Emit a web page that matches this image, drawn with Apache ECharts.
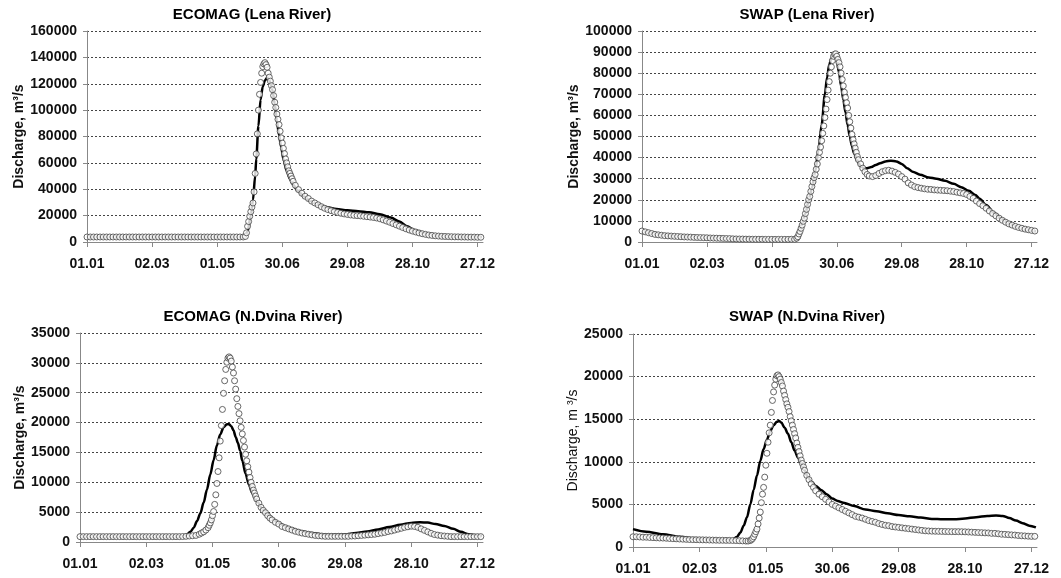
<!DOCTYPE html>
<html>
<head>
<meta charset="utf-8">
<script src="https://cdn.jsdelivr.net/npm/echarts@6/dist/echarts.min.js"></script>
<style>
  html, body { margin: 0; padding: 0; background: #fff; }
  #chart { width: 1061px; height: 578px; }
</style>
</head>
<body>
<div id="chart"></div>
<script>
// day of year (0 = 01.01) and tick labels
const tickDays = [0, 60, 120, 180, 240, 300, 360]
const tickLabels = ['01.01', '02.03', '01.05', '30.06', '29.08', '28.10', '27.12']

const panelTitles = ['ECOMAG (Lena River)', 'SWAP (Lena River)', 'ECOMAG (N.Dvina River)', 'SWAP (N.Dvina River)']
const yMax = [160000, 100000, 35000, 25000]
const yStep = [20000, 10000, 5000, 5000]

// ECOMAG, Lena: observed (circles) and simulated (line), [day, m3/s]
const lenaEcoObs = [
  [0,3800],[3,3800],[6,3800],[9,3800],[12,3800],[15,3800],[18,3800],[21,3800],[24,3800],[27,3800],[30,3800],[33,3800],
  [36,3800],[39,3800],[42,3800],[45,3800],[48,3800],[51,3800],[54,3800],[57,3800],[60,3800],[63,3800],[66,3800],[69,3800],
  [72,3800],[75,3800],[78,3800],[81,3800],[84,3800],[87,3800],[90,3800],[93,3800],[96,3800],[99,3800],[102,3800],[105,3800],
  [108,3800],[111,3800],[114,3800],[117,3800],[120,3800],[123,3800],[126,3800],[129,3800],[132,3800],[135,3800],[138,3800],
  [141,3800],[144,3800],[146,4200],[147,7000],[148,11900],[149,15500],[150,19500],[151,23000],[152,26500],[153,29600],
  [154,38000],[155,52000],[156,66800],[157,82000],[158,100000],[159,112000],[160,121000],[161,128000],[162,133000],
  [163,135000],[164,136000],[165,134500],[166,132500],[167,128000],[168,125000],[169,122000],[170,118500],[171,115500],
  [172,111000],[173,106000],[174,102000],[175,97000],[176,93000],[177,89000],[178,84000],[179,79000],[180,75000],
  [181,71000],[182,67000],[183,63000],[184,60000],[185,57000],[186,54000],[187,52000],[188,50000],[189,48000],[190,46000],
  [192,43000],[195,39700],[198,37000],[201,34700],[204,33000],[207,31000],[210,29600],[213,28200],[216,26800],[219,25600],
  [222,24600],[225,23800],[228,23000],[231,22400],[234,21800],[237,21300],[240,20900],[243,20500],[246,20200],[249,20000],
  [252,19800],[255,19500],[258,19200],[261,18900],[264,18600],[267,18200],[270,17600],[273,16800],[276,15900],[279,15000],
  [282,14000],[285,13000],[288,12000],[291,11000],[294,10000],[297,9100],[300,8300],[303,7600],[306,6900],[309,6300],
  [312,5800],[315,5300],[318,5000],[321,4700],[324,4500],[327,4300],[330,4200],[333,4100],[336,4000],[339,3900],[342,3900],
  [345,3800],[348,3800],[351,3700],[354,3700],[357,3700],[360,3600],[363,3600]
]
const lenaEcoSim = [
  [0,3800],[140,3800],[145,3900],[148,8000],[151,20000],[153,32000],[155,50000],[156,63000],[158,88000],[160,108000],
  [162,118000],[164,122500],[166,124500],[167,124000],[169,121000],[171,115000],[173,105000],[175,92000],[177,81000],
  [179,72000],[181,63000],[184,54000],[187,48000],[190,43500],[194,39000],[200,34500],[206,31000],[213,28400],[220,26500],
  [230,25000],[240,24000],[250,23400],[260,22600],[270,21000],[280,18500],[288,15500],[295,12000],[302,9000],[310,6800],
  [318,5200],[328,4300],[340,3900],[364,3700]
]

// SWAP, Lena
const lenaSwapObs = [
  [0,5200],[3,4800],[6,4400],[9,4000],[12,3600],[15,3400],[18,3200],[21,3000],[24,2900],[27,2800],[30,2700],[33,2600],
  [36,2500],[39,2400],[42,2350],[45,2300],[48,2200],[51,2150],[54,2100],[57,2050],[60,2000],[63,1900],[66,1850],[69,1800],
  [72,1750],[75,1700],[78,1650],[81,1600],[84,1500],[87,1450],[90,1400],[93,1400],[96,1350],[99,1350],[102,1300],[105,1300],
  [108,1300],[111,1300],[114,1250],[117,1250],[120,1250],[123,1250],[126,1250],[129,1250],[132,1250],[135,1250],[138,1300],
  [141,1300],[143,1800],[144,2500],[145,3800],[146,5000],[147,6500],[148,8000],[149,9800],[150,11300],[151,13500],
  [152,15500],[153,17800],[154,20000],[155,21600],[156,24000],[157,26300],[158,28500],[159,30500],[160,32000],[161,34500],
  [162,37000],[163,40000],[164,42500],[165,45000],[166,48000],[167,51500],[168,55000],[169,59000],[170,63000],[171,67500],
  [172,72000],[173,76000],[174,80000],[175,83000],[176,86000],[177,88000],[178,89000],[179,89200],[180,88000],[181,86500],
  [182,85000],[183,83000],[184,80000],[185,77000],[186,74000],[187,71000],[188,68500],[189,66000],[190,63500],[191,60000],
  [192,57000],[193,54000],[194,51000],[195,48500],[196,46500],[197,44500],[198,42500],[199,40500],[200,39000],[202,37000],
  [204,35000],[206,33300],[208,32000],[210,31300],[213,31000],[216,31500],[219,32500],[222,33300],[225,33800],[228,34000],
  [231,33600],[234,33000],[237,32200],[240,31000],[243,29800],[246,28000],[249,27000],[252,26200],[255,25800],[258,25500],
  [261,25200],[264,25000],[267,24900],[270,24700],[273,24600],[276,24500],[279,24400],[282,24300],[285,24100],[288,23900],
  [291,23600],[294,23300],[297,23000],[300,22500],[303,21600],[306,20700],[309,19400],[312,18200],[315,17200],[318,16000],
  [321,14700],[324,13500],[327,12400],[330,11300],[333,10300],[336,9400],[339,8600],[342,8000],[345,7400],[348,6900],
  [351,6500],[354,6100],[357,5800],[360,5500],[363,5200]
]
const lenaSwapSim = [
  [0,5000],[30,2700],[60,2000],[90,1500],[120,1300],[140,1300],[142,1800],[145,4500],[148,8500],[151,13500],[154,19500],
  [157,25500],[160,33400],[163,43000],[166,55600],[169,69900],[171,78000],[173,84000],[175,87000],[177,88500],[178,89000],
  [179,88000],[180,86000],[182,80500],[184,74000],[186,67500],[188,61500],[190,55500],[192,50000],[194,45500],[196,42000],
  [199,38500],[202,36000],[205,35000],[208,35000],[212,35500],[216,36500],[220,37300],[225,38200],[230,38500],[235,38200],
  [240,37000],[245,35000],[250,33300],[257,31900],[265,30600],[272,30000],[280,29000],[288,27600],[295,26000],[302,24300],
  [308,22300],[312,20500],[318,17500],[325,14000],[332,11000],[340,8500],[348,6800],[356,5700],[364,5000]
]

// ECOMAG, N.Dvina
const dvinaEcoObs = [
  [0,900],[3,900],[6,900],[9,900],[12,900],[15,900],[18,900],[21,900],[24,900],[27,900],[30,900],[33,900],[36,900],
  [39,900],[42,900],[45,900],[48,900],[51,900],[54,900],[57,900],[60,900],[63,900],[66,900],[69,900],[72,900],[75,900],
  [78,900],[81,900],[84,900],[87,900],[90,900],[93,920],[96,950],[99,1000],[102,1050],[105,1100],[108,1300],[110,1500],
  [112,1700],[114,2000],[116,2400],[117,2800],[118,3200],[119,3700],[120,4400],[121,5100],[122,6300],[123,7900],[124,9800],
  [125,11800],[126,14100],[127,16900],[128,19500],[129,22200],[130,24900],[131,27000],[132,28900],[133,30100],[134,30800],
  [135,31000],[136,30800],[137,30300],[138,29300],[139,28300],[140,27000],[141,25600],[142,24000],[143,22700],[144,21500],
  [145,20300],[146,19200],[147,18100],[148,17000],[149,15900],[150,14700],[151,13600],[152,12600],[153,11700],[154,10800],
  [155,10000],[156,9300],[157,8700],[158,8200],[159,7700],[160,7200],[162,6500],[164,5800],[166,5300],[168,4900],[170,4400],
  [172,4000],[174,3700],[177,3300],[180,3000],[183,2600],[186,2400],[189,2200],[192,2000],[195,1800],[198,1650],[201,1500],
  [204,1400],[207,1300],[210,1200],[213,1100],[216,1050],[219,1000],[222,950],[225,950],[228,950],[231,950],[234,950],
  [237,950],[240,950],[243,950],[246,1000],[249,1000],[252,1050],[255,1100],[258,1150],[261,1200],[264,1250],[267,1300],
  [270,1400],[273,1500],[276,1600],[279,1750],[282,1850],[285,2000],[288,2150],[291,2300],[294,2450],[297,2550],[300,2650],
  [303,2600],[306,2450],[309,2200],[312,1950],[315,1700],[318,1450],[321,1250],[324,1150],[327,1050],[330,1000],[333,950],
  [336,900],[339,900],[342,900],[345,900],[348,900],[351,900],[354,900],[357,900],[360,900],[363,900]
]
const dvinaEcoSim = [
  [0,900],[92,900],[96,1100],[100,1700],[103,2400],[106,3500],[109,4800],[112,6600],[115,8800],[118,11300],[121,13700],
  [124,16200],[127,18000],[130,19200],[133,19700],[135,19700],[137,19400],[139,18700],[141,17600],[143,16600],[145,15300],
  [147,13600],[150,11400],[153,9600],[156,8200],[160,6900],[165,5600],[170,4500],[175,3800],[180,3200],[186,2600],
  [192,2200],[200,1800],[210,1500],[220,1250],[230,1200],[240,1300],[250,1500],[260,1750],[270,2100],[280,2500],[290,2900],
  [300,3200],[308,3300],[315,3250],[322,3000],[330,2700],[338,2200],[345,1700],[352,1300],[358,1100],[364,1000]
]

// SWAP, N.Dvina
const dvinaSwapObs = [
  [0,1200],[3,1200],[6,1180],[9,1150],[12,1150],[15,1120],[18,1100],[21,1080],[24,1060],[27,1050],[30,1030],[33,1000],
  [36,980],[39,960],[42,940],[45,920],[48,900],[51,880],[54,870],[57,860],[60,850],[63,840],[66,830],[69,820],[72,810],
  [75,800],[78,790],[81,790],[84,780],[87,780],[90,770],[93,760],[96,740],[99,720],[102,700],[104,700],[106,760],[107,860],
  [108,1000],[109,1200],[110,1500],[111,1800],[112,2100],[113,2700],[114,3400],[115,4100],[116,5200],[117,6200],[118,7000],
  [119,8200],[120,9600],[121,11000],[122,12300],[123,13400],[124,14300],[125,15800],[126,17200],[127,18200],[128,19000],
  [129,19700],[130,20100],[131,20200],[132,20000],[133,19700],[134,19300],[135,18900],[136,18300],[137,17800],[138,17300],
  [139,16800],[140,16400],[141,15900],[142,15300],[143,14800],[144,14300],[145,13800],[146,13300],[147,12800],[148,12200],
  [149,11700],[150,11200],[151,10700],[152,10200],[153,9800],[154,9400],[155,9000],[157,8400],[159,7900],[161,7400],
  [163,7000],[165,6600],[168,6200],[171,5900],[174,5600],[177,5300],[180,5000],[183,4800],[186,4600],[189,4400],[192,4200],
  [195,4000],[198,3800],[201,3600],[204,3500],[207,3400],[210,3250],[213,3100],[216,3000],[219,2900],[222,2750],[225,2650],
  [228,2550],[231,2500],[234,2400],[237,2350],[240,2300],[243,2250],[246,2200],[249,2150],[252,2100],[255,2050],[258,2000],
  [261,1950],[264,1900],[267,1880],[270,1860],[273,1850],[276,1840],[279,1830],[282,1820],[285,1810],[288,1800],[291,1800],
  [294,1800],[297,1790],[300,1780],[303,1760],[306,1740],[309,1720],[312,1700],[315,1680],[318,1660],[321,1650],[324,1600],
  [327,1600],[330,1550],[333,1500],[336,1480],[339,1450],[342,1420],[345,1400],[348,1350],[351,1320],[354,1300],[357,1270],
  [360,1250],[363,1250]
]
const dvinaSwapSim = [
  [0,2100],[12,1800],[27,1500],[42,1200],[57,1000],[72,860],[90,860],[94,1200],[97,1700],[100,2500],[103,3500],[106,5000],
  [109,6700],[112,8400],[115,10100],[118,11500],[121,12600],[124,13600],[127,14300],[130,14700],[132,14800],[134,14600],
  [137,14000],[140,13300],[143,12300],[146,11300],[149,10500],[152,9800],[155,9000],[158,8200],[161,7700],[165,7200],
  [170,6700],[175,6200],[180,5700],[185,5400],[190,5200],[200,4800],[210,4400],[220,4200],[230,3950],[240,3750],[250,3600],
  [260,3450],[270,3300],[280,3250],[290,3250],[300,3350],[310,3500],[320,3650],[328,3700],[334,3650],[340,3400],[346,3100],
  [352,2800],[358,2500],[364,2300]
]

const observed = [lenaEcoObs, lenaSwapObs, dvinaEcoObs, dvinaSwapObs]
const simulated = [lenaEcoSim, lenaSwapSim, dvinaEcoSim, dvinaSwapSim]

// 版面位置
const grids = [
  { left: 87, top: 31, width: 396, height: 211 },
  { left: 642, top: 31, width: 395, height: 211 },
  { left: 80, top: 333, width: 403, height: 209 },
  { left: 633, top: 334, width: 404, height: 213 }
]
const titleCenters = [[252, 2], [807, 2], [253, 304], [807, 304]]
const nameGaps = [57, 57, 51, 50]
const yNames = ['Discharge, m³/s', 'Discharge, m³/s', 'Discharge, m³/s', 'Discharge, m ³/s']

const font = '"Liberation Sans", Arial, sans-serif'
const chart = echarts.init(document.getElementById('chart'), null, { renderer: 'canvas' })

chart.setOption({
  animation: false,
  backgroundColor: '#fff',
  title: panelTitles.map((t, i) => ({
    text: t,
    left: titleCenters[i][0] - 5,
    top: titleCenters[i][1],
    textAlign: 'center',
    textStyle: { fontFamily: font, fontSize: 15, fontWeight: 'bold', color: '#000' }
  })),
  grid: grids.map(g => Object.assign({ outerBoundsMode: 'none' }, g)),
  xAxis: grids.map((g, i) => ({
    type: 'value',
    gridIndex: i,
    min: 0,
    max: 365,
    axisLine: { lineStyle: { color: '#888', width: 1 } },
    axisTick: { show: true, length: 5, customValues: tickDays, lineStyle: { color: '#888' } },
    axisLabel: {
      customValues: tickDays,
      margin: 15,
      fontFamily: font,
      fontSize: 14,
      fontWeight: 'bold',
      color: '#111',
      formatter: v => tickLabels[tickDays.indexOf(v)] || ''
    },
    splitLine: { show: false }
  })),
  yAxis: grids.map((g, i) => ({
    type: 'value',
    gridIndex: i,
    min: 0,
    max: yMax[i],
    interval: yStep[i],
    name: yNames[i],
    nameLocation: 'middle',
    nameGap: nameGaps[i],
    nameTextStyle: { fontFamily: font, fontSize: 14, fontWeight: i === 3 ? 'normal' : 'bold', color: '#111' },
    axisLine: { show: true, lineStyle: { color: '#888', width: 1 } },
    axisTick: { show: true, length: 4, lineStyle: { color: '#888' } },
    axisLabel: {
      margin: 10,
      fontFamily: font,
      fontSize: 14,
      fontWeight: 'bold',
      color: '#111',
      formatter: v => String(v)
    },
    splitLine: { show: true, lineStyle: { type: [2, 2], color: '#444', width: 1 } }
  })),
  series: [
    // 模拟值：实线
    ...simulated.map((d, i) => ({
      type: 'line',
      xAxisIndex: i,
      yAxisIndex: i,
      data: d,
      showSymbol: false,
      smooth: 0.3,
      smoothMonotone: 'x',
      lineStyle: { color: '#000', width: 2.5 },
      z: 2
    })),
    // 观测值：空心圆
    ...observed.map((d, i) => ({
      type: 'scatter',
      xAxisIndex: i,
      yAxisIndex: i,
      data: d,
      symbol: 'circle',
      symbolSize: 6,
      itemStyle: { color: '#fff', borderColor: '#444', borderWidth: 1 },
      z: 3
    }))
  ]
})
</script>
</body>
</html>
